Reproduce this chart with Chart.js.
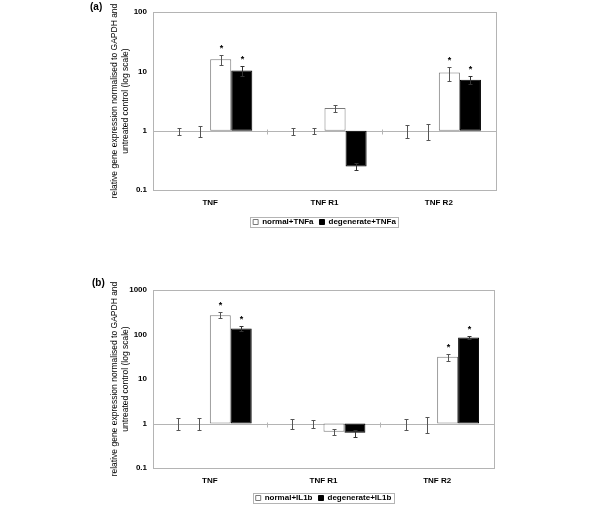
<!DOCTYPE html>
<html>
<head>
<meta charset="utf-8">
<script src="https://cdn.jsdelivr.net/npm/chart.js@4/dist/chart.umd.min.js"></script>
<style>
  body { margin: 0; background: #fff; overflow: hidden; }
  .panel { position: absolute; left: 0; width: 600px; }
</style>
</head>
<body>
<div class="panel" style="top:0"><canvas id="chartA" width="600" height="253"></canvas></div>
<div class="panel" style="top:253px"><canvas id="chartB" width="600" height="259"></canvas></div>
<script>
const categories = ["TNF", "TNF R1", "TNF R2"];

// panel (a) - TNFa stimulation
const ctrlNormalA = [1, 1, 1];
const ctrlNormalAHi = [1.12, 1.13, 1.25];
const ctrlNormalALo = [0.85, 0.86, 0.74];
const ctrlDegA = [1, 1, 1];
const ctrlDegAHi = [1.2, 1.1, 1.3];
const ctrlDegALo = [0.77, 0.89, 0.7];
const normalTNFa = [16, 2.4, 9.6];
const normalTNFaHi = [18.6, 2.75, 12];
const normalTNFaLo = [12.6, 2.1, 7.0];
const degTNFa = [10.3, 0.25, 7.2];
const degTNFaHi = [12.3, 0.28, 8.4];
const degTNFaLo = [8.5, 0.22, 6.2];
const starsNormalA = [true, false, true];
const starsDegA = [true, false, true];
const ticksA = [0.1, 1, 10, 100];

// panel (b) - IL1b stimulation
const ctrlNormalB = [1, 1, 1];
const ctrlNormalBHi = [1.3, 1.27, 1.27];
const ctrlNormalBLo = [0.72, 0.76, 0.73];
const ctrlDegB = [1, 1, 1];
const ctrlDegBHi = [1.3, 1.19, 1.41];
const ctrlDegBLo = [0.72, 0.8, 0.62];
const normalIL1b = [271, 0.65, 31.6];
const normalIL1bHi = [324, 0.77, 36.8];
const normalIL1bLo = [229, 0.56, 25];
const degIL1b = [136, 0.62, 85.6];
const degIL1bHi = [157, 0.7, 93.7];
const degIL1bLo = [118, 0.51, 78];
const starsNormalB = [true, false, true];
const starsDegB = [true, false, true];
const ticksB = [0.1, 1, 10, 100, 1000];

const yTitle = ["relative gene expression normalised to GAPDH and", "untreated control (log scale)"];
const FONT = "'Liberation Sans', Arial, sans-serif";

// error bars + significance stars, drawn through the y scale
const errorBars = {
  id: "errorBars",
  afterDatasetsDraw(chart) {
    const ctx = chart.ctx;
    const y = chart.scales.y;
    chart.data.datasets.forEach((ds, i) => {
      const meta = chart.getDatasetMeta(i);
      meta.data.forEach((bar, j) => {
        const top = Math.round(y.getPixelForValue(ds.errHi[j])) + 0.5;
        const bot = Math.round(y.getPixelForValue(ds.errLo[j])) + 0.5;
        const x = Math.round(bar.x) + 0.5;
        ctx.save();
        ctx.strokeStyle = ds.errColor;
        ctx.lineWidth = 1;
        ctx.beginPath();
        ctx.moveTo(x, top); ctx.lineTo(x, bot);
        ctx.moveTo(x - 2, top); ctx.lineTo(x + 2, top);
        ctx.moveTo(x - 2, bot); ctx.lineTo(x + 2, bot);
        ctx.stroke();
        if (ds.stars && ds.stars[j]) {
          ctx.fillStyle = "#000";
          ctx.font = "bold 9px " + FONT;
          ctx.textAlign = "center";
          ctx.textBaseline = "middle";
          ctx.fillText("*", x, top - 7);
        }
        ctx.restore();
      });
    });
  }
};

// plot frame, the category line at y = 1, panel letter, legend frame
const frame = {
  id: "frame",
  afterLayout(chart) {
    // centre the legend under the plot area, as in the original figure
    // (the legend plugin recomputes its hit boxes in afterUpdate)
    const lg = chart.legend;
    const a = chart.chartArea;
    if (!lg) return;
    lg.left = a.left;
    lg.right = a.right;
    lg.width = a.right - a.left;
  },
  beforeDatasetsDraw(chart) {
    const {ctx, chartArea: a} = chart;
    const x = chart.scales.x, y = chart.scales.y;
    ctx.save();
    ctx.strokeStyle = "#b4b4b4";
    ctx.lineWidth = 1;
    ctx.strokeRect(Math.round(a.left) + 0.5, Math.round(a.top) + 0.5,
      Math.round(a.right - a.left), Math.round(a.bottom - a.top));
    const y1 = Math.round(y.getPixelForValue(1)) + 0.5;
    ctx.beginPath();
    ctx.moveTo(a.left, y1); ctx.lineTo(a.right, y1);
    for (let i = 1; i < categories.length; i++) {
      const bx = Math.round((x.getPixelForTick(i - 1) + x.getPixelForTick(i)) / 2) + 0.5;
      ctx.moveTo(bx, y1 - 2); ctx.lineTo(bx, y1 + 3);
    }
    ctx.stroke();
    ctx.restore();
  },
  afterDraw(chart, args, opts) {
    const ctx = chart.ctx;
    ctx.save();
    ctx.fillStyle = "#000";
    ctx.font = "bold 10px " + FONT;
    ctx.textAlign = "left";
    ctx.textBaseline = "middle";
    ctx.fillText(opts.label, opts.labelX, opts.labelY);
    const lg = chart.legend;
    if (lg && lg.legendHitBoxes.length) {
      const hb = lg.legendHitBoxes;
      const l = Math.min(...hb.map(h => h.left)) - 3;
      const r = Math.max(...hb.map(h => h.left + h.width)) + 2;
      const t = Math.min(...hb.map(h => h.top)) - 1;
      const b = Math.max(...hb.map(h => h.top + h.height)) + 1;
      ctx.strokeStyle = "#b4b4b4";
      ctx.lineWidth = 1;
      ctx.strokeRect(Math.round(l) + 0.5, Math.round(t) + 0.5, Math.round(r - l), Math.round(b - t));
    }
    ctx.restore();
  }
};

function floating(values) {
  return values.map(v => [1, v]);
}

function makeChart(id, s) {
  return new Chart(document.getElementById(id).getContext("2d"), {
    type: "bar",
    data: {
      labels: categories,
      datasets: [
        { label: "untreated normal", data: floating(s.cn), errHi: s.cnHi, errLo: s.cnLo, errColor: "#555",
          backgroundColor: "rgba(0,0,0,0)", borderWidth: 0 },
        { label: "untreated degenerate", data: floating(s.cd), errHi: s.cdHi, errLo: s.cdLo, errColor: "#555",
          backgroundColor: "rgba(0,0,0,0)", borderWidth: 0 },
        { label: s.nLabel, data: floating(s.n), errHi: s.nHi, errLo: s.nLo, errColor: "#555", stars: s.nStars,
          backgroundColor: "#fff", borderColor: "#7a7a7a", borderWidth: 1, borderSkipped: false },
        { label: s.dLabel, data: floating(s.d), errHi: s.dHi, errLo: s.dLo, errColor: "#333", stars: s.dStars,
          backgroundColor: "#000", borderColor: "#000", borderWidth: 1, borderSkipped: false }
      ]
    },
    options: {
      responsive: false,
      animation: false,
      layout: { padding: { left: 110, right: s.padRight, top: s.padTop, bottom: s.padBottom } },
      datasets: { bar: { categoryPercentage: 0.737, barPercentage: 1 } },
      scales: {
        x: {
          grid: { display: false, drawTicks: false },
          border: { display: false },
          ticks: { padding: 8, color: "#000", font: { family: FONT, size: 8, weight: "bold" } },
          afterFit: sc => { sc.height = s.xHeight; }
        },
        y: {
          type: "logarithmic",
          min: s.ticks[0],
          max: s.ticks[s.ticks.length - 1],
          grid: { display: false, drawTicks: false },
          border: { display: false },
          afterBuildTicks: sc => { sc.ticks = s.ticks.map(v => ({ value: v })); },
          ticks: { padding: 6, color: "#000", font: { family: FONT, size: 8, weight: "bold" },
            callback: v => String(v) },
          title: { display: true, text: yTitle, color: "#000", padding: { top: 0, bottom: 0 },
            font: { family: FONT, size: 8.5, lineHeight: 1.2 } },
          afterFit: sc => { sc.width = 43; }
        }
      },
      plugins: {
        tooltip: { enabled: false },
        legend: {
          position: "bottom",
          labels: {
            filter: item => item.datasetIndex >= 2,
            boxWidth: 5, boxHeight: 5, padding: 6, color: "#000",
            font: { family: FONT, size: 8, weight: "bold" }
          }
        },
        frame: { label: s.panel, labelX: s.labelX, labelY: s.labelY }
      }
    },
    plugins: [frame, errorBars]
  });
}

makeChart("chartA", {
  panel: "(a)", labelX: 90, labelY: 7, padTop: 12, padRight: 104, padBottom: 17, xHeight: 22, ticks: ticksA,
  cn: ctrlNormalA, cnHi: ctrlNormalAHi, cnLo: ctrlNormalALo,
  cd: ctrlDegA, cdHi: ctrlDegAHi, cdLo: ctrlDegALo,
  n: normalTNFa, nHi: normalTNFaHi, nLo: normalTNFaLo, nStars: starsNormalA, nLabel: "normal+TNFa",
  d: degTNFa, dHi: degTNFaHi, dLo: degTNFaLo, dStars: starsDegA, dLabel: "degenerate+TNFa"
});

makeChart("chartB", {
  panel: "(b)", labelX: 92, labelY: 30, padTop: 37, padRight: 106, padBottom: 0, xHeight: 20, ticks: ticksB,
  cn: ctrlNormalB, cnHi: ctrlNormalBHi, cnLo: ctrlNormalBLo,
  cd: ctrlDegB, cdHi: ctrlDegBHi, cdLo: ctrlDegBLo,
  n: normalIL1b, nHi: normalIL1bHi, nLo: normalIL1bLo, nStars: starsNormalB, nLabel: "normal+IL1b",
  d: degIL1b, dHi: degIL1bHi, dLo: degIL1bLo, dStars: starsDegB, dLabel: "degenerate+IL1b"
});
</script>
</body>
</html>
